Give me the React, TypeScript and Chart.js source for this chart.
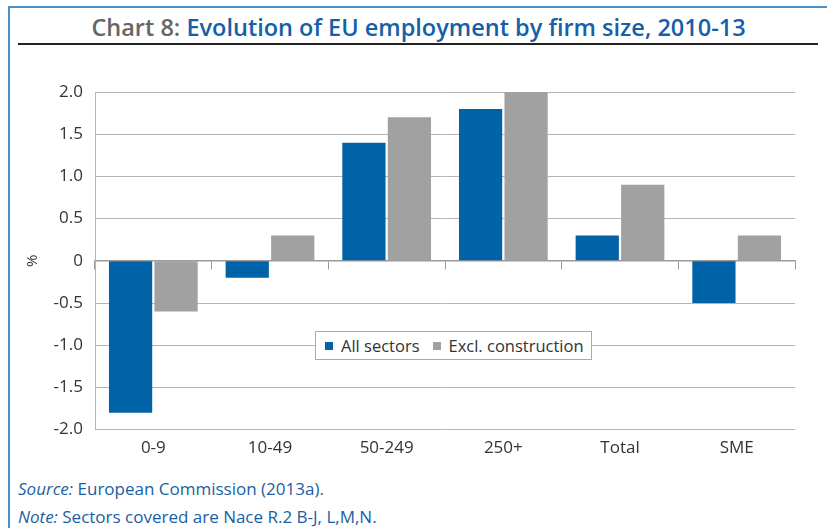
import React, { useEffect, useRef } from "react";
import { Chart, registerables } from "chart.js";
Chart.register(...registerables);

const categories = ["0-9", "10-49", "50-249", "250+", "Total", "SME"];
const allSectors = [-1.8, -0.2, 1.4, 1.8, 0.3, -0.5];
const exclConstruction = [-0.6, 0.3, 1.7, 2.0, 0.9, 0.3];
const seriesNames = ["All sectors", "Excl. construction"];
const yMin = -2;
const yMax = 2;
const yStep = 0.5;

const BLUE = "#0062a7";
const GREY = "#a0a1a0";
const FONT = "'Open Sans', 'Noto Sans', sans-serif";

function fmt(v: number) {
  return v === 0 ? "0" : v.toFixed(1);
}

export default function App() {
  const ref = useRef<HTMLCanvasElement | null>(null);
  useEffect(() => {
    if (!ref.current) return;
    const chart = new Chart(ref.current, {
      type: "bar",
      data: {
        labels: categories,
        datasets: [
          { label: seriesNames[0], data: allSectors, backgroundColor: BLUE, xAxisID: "x", categoryPercentage: 0.78, barPercentage: 0.95 },
          { label: seriesNames[1], data: exclConstruction, backgroundColor: GREY, xAxisID: "x", categoryPercentage: 0.78, barPercentage: 0.95 },
        ],
      },
      options: {
        animation: false,
        responsive: false,
        maintainAspectRatio: false,
        layout: { padding: { left: 0, right: 15, top: 32, bottom: 4 } },
        plugins: { legend: { display: false }, tooltip: { enabled: false } },
        scales: {
          x: {
            position: "bottom",
            grid: { display: false, drawTicks: false },
            border: { display: false },
            ticks: { color: "#333", font: { family: FONT, size: 17 }, padding: 8 },
          },
          x0: {
            type: "category",
            labels: categories,
            position: { y: 0 } as any,
            ticks: { display: false },
            grid: { drawOnChartArea: false, drawTicks: true, tickLength: 8, offset: true, color: "#9a9a9a", lineWidth: 1 },
            border: { display: true, color: "#9a9a9a", width: 1.5 },
          },
          y: {
            min: yMin,
            max: yMax,
            ticks: {
              stepSize: yStep,
              color: "#333",
              font: { family: FONT, size: 17 },
              padding: 12,
              callback: (v: any) => fmt(Number(v)),
            },
            grid: { color: "#b5b5b5", lineWidth: 1, drawTicks: false },
            border: { display: true, color: "#b5b5b5" },
            title: { display: true, text: "%", color: "#333", font: { family: FONT, size: 15 }, padding: { top: 14, bottom: 0 } },
            afterFit: (s: any) => { s.width = 85; },
          },
        },
      },
    });
    return () => chart.destroy();
  }, []);

  return (
    <div style={{ position: "absolute", left: 0, top: 0, width: 827, height: 528, background: "#fff", overflow: "hidden", fontFamily: FONT }}>
      <div style={{ position: "absolute", left: 8, top: 6, width: 819, height: 2, background: "#4a8fc8" }} />
      <div style={{ position: "absolute", left: 8, top: 6, width: 2, height: 522, background: "#4a8fc8" }} />
      <div style={{ position: "absolute", left: 10, top: 10, width: 817, textAlign: "center", fontSize: 23.5, fontWeight: 600, color: "#1560a8", lineHeight: "34px", whiteSpace: "nowrap" }}>
        <span style={{ color: "#666" }}>Chart 8: </span>Evolution of EU employment by firm size, 2010-13
      </div>
      <div style={{ position: "absolute", left: 18, top: 43, width: 800, height: 2, background: "#222" }} />
      <canvas ref={ref} width={800} height={410} style={{ position: "absolute", left: 10, top: 60, width: 800, height: 410 }} />
      <div style={{ position: "absolute", left: 315, top: 331, width: 275, height: 27, border: "1px solid #aaa", background: "#fff", display: "flex", alignItems: "center", fontSize: 16.5, color: "#333", boxSizing: "content-box", whiteSpace: "nowrap" }}>
        <span style={{ display: "inline-block", width: 8, height: 8, background: BLUE, marginLeft: 9, marginRight: 8 }} />
        <span>{seriesNames[0]}</span>
        <span style={{ display: "inline-block", width: 8, height: 8, background: GREY, marginLeft: 13, marginRight: 8 }} />
        <span>{seriesNames[1]}</span>
      </div>
      <div style={{ position: "absolute", left: 18, top: 477, fontSize: 17, color: "#1a5ea4", whiteSpace: "nowrap" }}>
        <i>Source:</i> European Commission (2013a).
      </div>
      <div style={{ position: "absolute", left: 18, top: 505, fontSize: 17, color: "#1a5ea4", whiteSpace: "nowrap" }}>
        <i>Note:</i> Sectors covered are Nace R.2 B-J, L,M,N.
      </div>
    </div>
  );
}
